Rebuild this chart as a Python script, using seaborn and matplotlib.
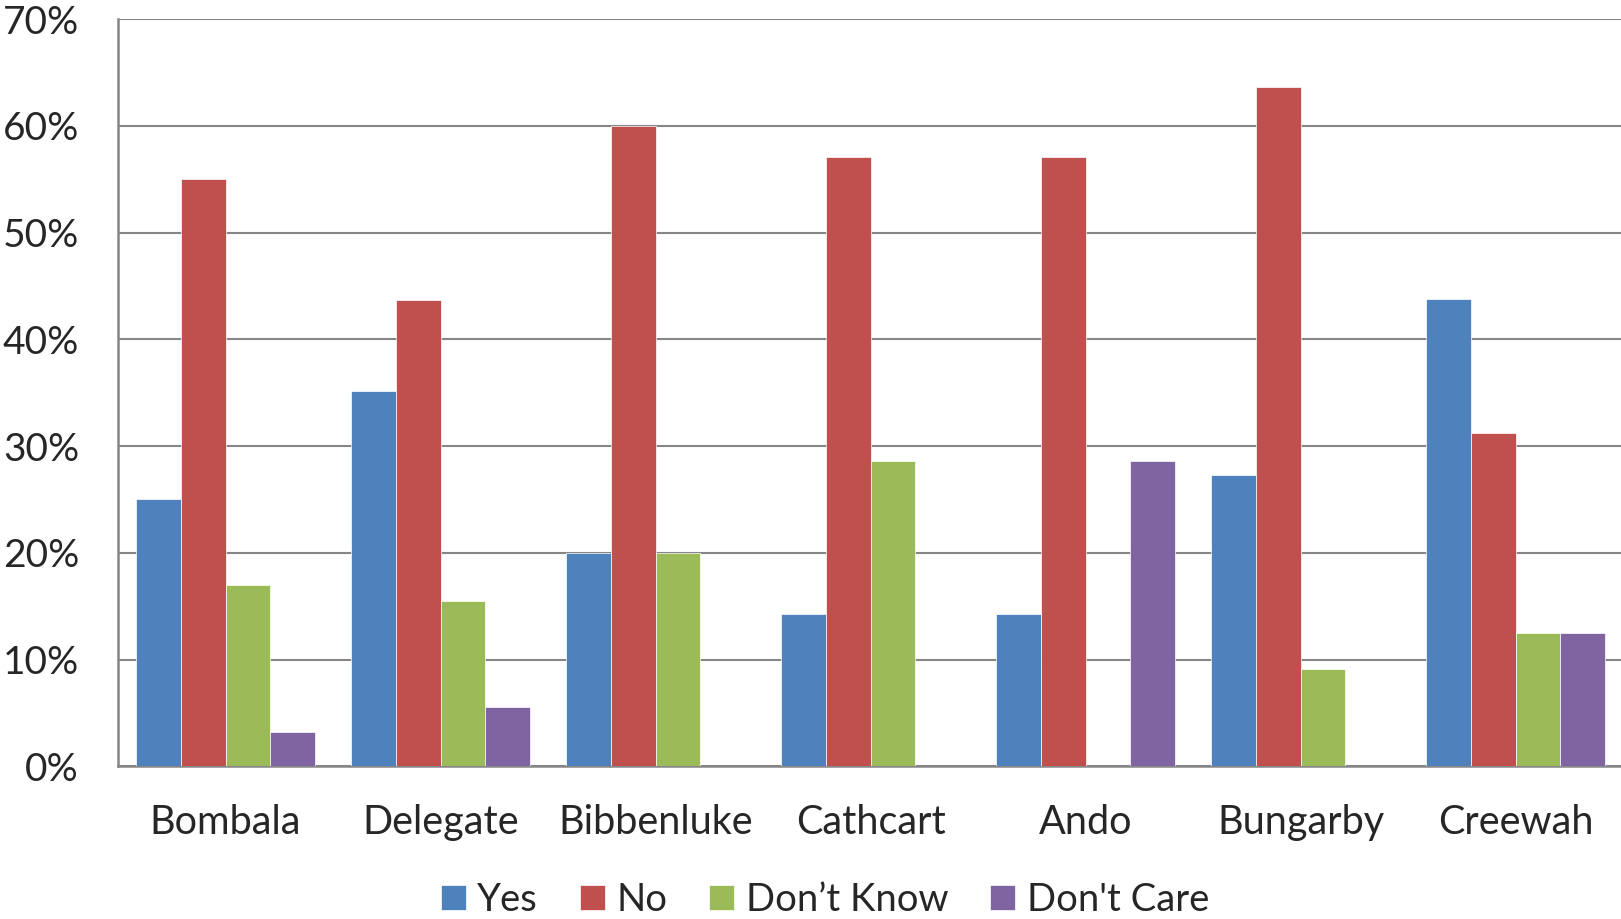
import numpy as np
import pandas as pd
import matplotlib
matplotlib.use("Agg")
import matplotlib.pyplot as plt
import seaborn as sns
from matplotlib.ticker import FuncFormatter

# Survey responses by locality (percent of respondents)
localities = ["Bombala", "Delegate", "Bibbenluke", "Cathcart", "Ando", "Bungarby", "Creewah"]
responses = ["Yes", "No", "Don\u2019t Know", "Don't Care"]
yes_pct = [25.0, 35.2, 20.0, 14.3, 14.3, 27.3, 43.75]
no_pct = [55.0, 43.7, 60.0, 57.1, 57.1, 63.6, 31.25]
dont_know_pct = [17.0, 15.5, 20.0, 28.6, 0.0, 9.1, 12.5]
dont_care_pct = [3.2, 5.6, 0.0, 0.0, 28.6, 0.0, 12.5]
y_ticks = [0, 10, 20, 30, 40, 50, 60, 70]

colors = ["#4F81BD", "#C0504D", "#9BBB59", "#8064A2"]

rows = []
for name, series in zip(responses, [yes_pct, no_pct, dont_know_pct, dont_care_pct]):
    for loc, v in zip(localities, series):
        rows.append({"Locality": loc, "Response": name, "Percent": v})
df = pd.DataFrame(rows)

sns.set_style("white")
plt.rcParams["font.family"] = ["Lato", "DejaVu Sans"]

W, H = 1621, 919
fig = plt.figure(figsize=(W / 100, H / 100), dpi=100)
ax = fig.add_axes([118 / W, 1 - 766.3 / H, (1623 - 118) / W, (766.3 - 19) / H])

sns.barplot(
    data=df, x="Locality", y="Percent", hue="Response",
    order=localities, hue_order=responses, palette=colors,
    width=0.833, gap=0, saturation=1, errorbar=None,
    edgecolor="white", linewidth=0.5, ax=ax, zorder=3,
)

grid_color = "#868686"
ax.set_ylim(0, 70)
ax.set_xlim(-0.5, len(localities) - 0.5)
ax.set_yticks(y_ticks)
ax.yaxis.set_major_formatter(FuncFormatter(lambda v, _: f"{v:.0f}%"))
ax.grid(axis="y", color=grid_color, linewidth=1.5, zorder=0)
ax.grid(axis="x", visible=False)
ax.set_axisbelow(True)

for side in ["top", "right"]:
    ax.spines[side].set_visible(False)
for side in ["left", "bottom"]:
    ax.spines[side].set_color(grid_color)
    ax.spines[side].set_linewidth(1.8)

ax.tick_params(axis="y", length=3, color=grid_color, width=1.5, pad=25, labelsize=28)
ax.tick_params(axis="x", length=0, pad=27, labelsize=28.5)
ax.set_xlabel("")
ax.set_ylabel("")

handles, labels = ax.get_legend_handles_labels()
ax.legend(
    handles, labels, ncol=4, loc="center", frameon=False,
    bbox_to_anchor=(825 / W, 1 - 900 / H), bbox_transform=fig.transFigure,
    fontsize=27.5, handlelength=0.65, handleheight=0.65, handletextpad=0.3,
    columnspacing=1.1, borderaxespad=0, borderpad=0,
)

fig.savefig("out.png", dpi=100)
